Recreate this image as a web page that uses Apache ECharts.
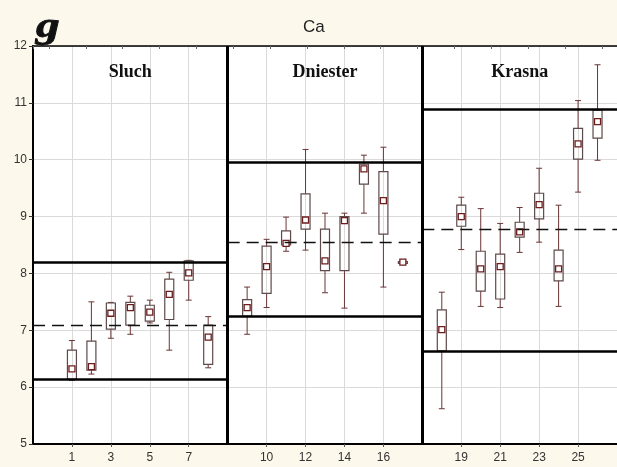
<!DOCTYPE html>
<html>
<head>
<meta charset="utf-8">
<script src="https://cdn.jsdelivr.net/npm/echarts@6/dist/echarts.min.js"></script>
<style>
  html, body { margin: 0; padding: 0; background: #fcf8ec; }
  #chart { width: 617px; height: 467px; }
</style>
</head>
<body>
<div id="chart"></div>
<script>
// case numbers on the x axis, one list per river
const sluchCases = [1, 2, 3, 4, 5, 6, 7, 8]
const dniesterCases = [9, 10, 11, 12, 13, 14, 15, 16, 17]
const krasnaCases = [18, 19, 20, 21, 22, 23, 24, 25, 26]

// [whisker low, box low, mean, box high, whisker high]
const sluchStats = [
  [6.12, 6.14, 6.32, 6.65, 6.82],
  [6.23, 6.30, 6.36, 6.81, 7.50],
  [6.86, 7.02, 7.30, 7.48, 7.49],
  [6.93, 7.09, 7.40, 7.49, 7.60],
  [7.13, 7.16, 7.32, 7.44, 7.53],
  [6.65, 7.19, 7.63, 7.90, 8.02],
  [7.53, 7.88, 8.01, 8.22, 8.23],
  [6.34, 6.40, 6.88, 7.09, 7.24]
]
const dniesterStats = [
  [6.93, 7.25, 7.40, 7.54, 7.76],
  [7.40, 7.65, 8.12, 8.48, 8.60],
  [8.39, 8.50, 8.53, 8.75, 8.99],
  [8.41, 8.78, 8.94, 9.40, 10.18],
  [7.66, 8.05, 8.22, 8.78, 9.06],
  [7.39, 8.05, 8.93, 9.00, 9.06],
  [9.06, 9.57, 9.84, 9.92, 10.08],
  [7.76, 8.69, 9.28, 9.79, 10.22],
  [8.19, 8.19, 8.20, 8.21, 8.21]
]
const krasnaStats = [
  [5.62, 6.64, 7.01, 7.36, 7.67],
  [8.42, 8.83, 9.00, 9.20, 9.34],
  [7.42, 7.69, 8.08, 8.39, 9.14],
  [7.40, 7.55, 8.12, 8.34, 8.88],
  [8.37, 8.64, 8.73, 8.90, 9.16],
  [8.55, 8.96, 9.21, 9.41, 9.85],
  [7.42, 7.87, 8.08, 8.41, 9.20],
  [9.43, 10.01, 10.28, 10.55, 11.04],
  [9.99, 10.38, 10.67, 10.87, 11.67]
]

// [lower limit, mean, upper limit] per river
const sluchLimits = [6.14, 7.09, 8.20]
const dniesterLimits = [7.25, 8.55, 9.95]
const krasnaLimits = [6.64, 8.78, 10.89]

const xTickLabels = ['1', '3', '5', '7', '10', '12', '14', '16', '19', '21', '23', '25']
const yTickLabels = [5, 6, 7, 8, 9, 10, 11, 12]

// each panel is 10 slots wide; first = slot of its first case
const panels = [
  { name: 'Sluch', cases: sluchCases, stats: sluchStats, limits: sluchLimits, start: 0, first: 2 },
  { name: 'Dniester', cases: dniesterCases, stats: dniesterStats, limits: dniesterLimits, start: 10, first: 11 },
  { name: 'Krasna', cases: krasnaCases, stats: krasnaStats, limits: krasnaLimits, start: 20, first: 21 }
]
const SLOTS = 30

const slots = []
const slotLabels = []
for (let i = 0; i <= SLOTS; i++) {
  slots.push(String(i))
  slotLabels.push('')
}
const boxData = []
panels.forEach(p => {
  p.cases.forEach((c, i) => {
    const slot = p.first + i
    slotLabels[slot] = String(c)
    boxData.push([slot, ...p.stats[i]])
  })
})
const showTick = (idx) => xTickLabels.includes(slotLabels[idx])

// reference lines, limited to the width of each panel
const limitLines = []
panels.forEach(p => {
  p.limits.forEach((v, k) => {
    limitLines.push([
      {
        coord: [String(p.start), v],
        lineStyle: k === 1
          ? { type: [12, 7], width: 1.3, color: '#111' }
          : { type: 'solid', width: 2.5, color: '#000' }
      },
      { coord: [String(p.start + 10), v] }
    ])
  })
})
const dividers = [10, 20].map(s => ({ xAxis: String(s), lineStyle: { type: 'solid', width: 3, color: '#000' } }))

const boxColor = '#5e4a4a'
const whiskerColor = '#6b3535'
const markColor = '#6e1c1c'

const renderBox = (params, api) => {
  const x = api.value(0)
  const pt = (k) => api.coord([x, api.value(k)])
  const [cx, yWL] = pt(1)
  const yBL = pt(2)[1]
  const yM = pt(3)[1]
  const yBH = pt(4)[1]
  const yWH = pt(5)[1]
  const half = 4.5
  const cap = 3
  const line = (x1, y1, x2, y2, color) => ({
    type: 'line',
    shape: { x1, y1, x2, y2 },
    style: { stroke: color, lineWidth: 1 }
  })
  return {
    type: 'group',
    children: [
      line(cx, yWL, cx, yBL, whiskerColor),
      line(cx, yBH, cx, yWH, whiskerColor),
      line(cx - cap, yWL, cx + cap, yWL, whiskerColor),
      line(cx - cap, yWH, cx + cap, yWH, whiskerColor),
      {
        type: 'rect',
        shape: { x: cx - half, y: yBH, width: half * 2, height: Math.max(yBL - yBH, 2) },
        style: { fill: 'none', stroke: boxColor, lineWidth: 1.2 }
      },
      {
        type: 'rect',
        shape: { x: cx - 3, y: yM - 3, width: 6, height: 6 },
        style: { fill: '#fff', stroke: markColor, lineWidth: 1.3 }
      }
    ]
  }
}

const chart = echarts.init(document.getElementById('chart'))

chart.setOption({
  backgroundColor: '#fcf8ec',
  animation: false,
  title: {
    text: 'Ca',
    left: 303,
    top: 19,
    padding: 0,
    textStyle: { fontFamily: 'Liberation Sans', fontSize: 17, fontWeight: 'normal', color: '#222' }
  },
  grid: {
    left: 33,
    right: 0,
    top: 46,
    bottom: 23,
    show: true,
    backgroundColor: '#ffffff',
    borderWidth: 0
  },
  xAxis: [
    {
      type: 'category',
      data: slots,
      boundaryGap: false,
      axisLine: { lineStyle: { color: '#000', width: 2 } },
      axisTick: { interval: showTick, length: 3, lineStyle: { color: '#555' } },
      axisLabel: {
        interval: showTick,
        formatter: (v) => slotLabels[Number(v)],
        margin: 8,
        color: '#333',
        fontFamily: 'Liberation Sans',
        fontSize: 12
      },
      splitLine: { show: true, interval: showTick, lineStyle: { color: '#dadada', width: 1 } }
    },
    {
      // plain top frame with its own small ticks
      type: 'value',
      position: 'top',
      min: -0.434,
      max: 15.41,
      minInterval: 1,
      maxInterval: 1,
      axisLine: { onZero: false, lineStyle: { color: '#000', width: 1.5 } },
      axisTick: { show: true, inside: true, length: 3, lineStyle: { color: '#666' } },
      axisLabel: { show: false },
      splitLine: { show: false }
    }
  ],
  yAxis: {
    type: 'value',
    min: yTickLabels[0],
    max: yTickLabels[yTickLabels.length - 1],
    interval: 1,
    axisLine: { show: true, onZero: false, lineStyle: { color: '#000', width: 2 } },
    axisTick: { show: true, length: 4, lineStyle: { color: '#333' } },
    axisLabel: { margin: 6, color: '#333', fontFamily: 'Liberation Sans', fontSize: 12 },
    splitLine: { show: true, lineStyle: { color: '#dadada', width: 1 } }
  },
  series: [
    {
      type: 'custom',
      name: 'Ca',
      renderItem: renderBox,
      data: boxData,
      silent: true,
      markLine: {
        silent: true,
        symbol: ['none', 'none'],
        label: { show: false },
        data: [...limitLines, ...dividers]
      }
    }
  ]
})

// panel titles and the letter of the figure
const nameY = 11.53
chart.setOption({
  graphic: [
    {
      type: 'text',
      x: 36,
      y: 10,
      scaleX: 1.35,
      style: { text: 'g', font: 'italic bold 35px "Liberation Serif"', fill: '#111', stroke: '#111', lineWidth: 0.8 }
    },
    ...panels.map(p => {
      const [px, py] = chart.convertToPixel({ xAxisIndex: 0, yAxisIndex: 0 }, [String(p.start + 5), nameY])
      return {
        type: 'text',
        x: px,
        y: py,
        style: {
          text: p.name,
          font: 'bold 18px "Liberation Serif"',
          fill: '#111',
          align: 'center',
          verticalAlign: 'middle'
        }
      }
    })
  ]
})
</script>
</body>
</html>
